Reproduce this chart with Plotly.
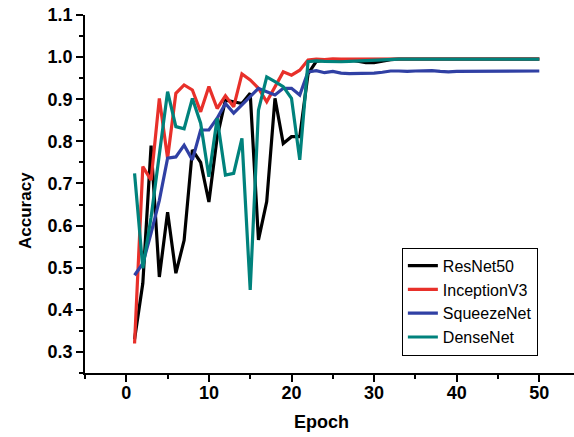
import plotly.graph_objects as go

epochs = list(range(1, 51))

resnet50 = [
    0.33, 0.463, 0.79, 0.478, 0.632, 0.487, 0.565, 0.78, 0.75, 0.656,
    0.81, 0.898, 0.894, 0.89, 0.914, 0.566, 0.657, 0.902, 0.795, 0.811,
    0.811, 0.96, 0.99, 0.993, 0.994, 0.993, 0.994, 0.99, 0.987, 0.987,
    0.99, 0.994, 0.995, 0.995, 0.995, 0.995, 0.995, 0.995, 0.995, 0.995,
    0.995, 0.995, 0.995, 0.995, 0.995, 0.995, 0.995, 0.995, 0.995, 0.995,
]
inception_v3 = [
    0.32, 0.74, 0.708, 0.902, 0.76, 0.914, 0.934, 0.922, 0.87, 0.93,
    0.878, 0.908, 0.882, 0.96, 0.946, 0.926, 0.894, 0.93, 0.965, 0.957,
    0.969, 0.993, 0.995, 0.994, 0.996, 0.995, 0.995, 0.996, 0.995, 0.995,
    0.996, 0.996, 0.996, 0.996, 0.996, 0.996, 0.996, 0.996, 0.996, 0.996,
    0.996, 0.996, 0.996, 0.996, 0.996, 0.996, 0.996, 0.996, 0.996, 0.996,
]
squeezenet = [
    0.482, 0.51, 0.582, 0.66, 0.76, 0.763, 0.791, 0.756, 0.827, 0.827,
    0.855, 0.89, 0.867, 0.886, 0.906, 0.926, 0.918, 0.91, 0.926, 0.926,
    0.91, 0.965, 0.968, 0.963, 0.966, 0.962, 0.961, 0.961, 0.961, 0.962,
    0.964, 0.967, 0.967, 0.966, 0.967, 0.968, 0.968, 0.966, 0.965, 0.966,
    0.966, 0.967, 0.967, 0.967, 0.967, 0.967, 0.967, 0.967, 0.967, 0.967,
]
densenet = [
    0.724, 0.499, 0.62, 0.77, 0.918, 0.835, 0.83, 0.902, 0.843, 0.716,
    0.855, 0.72, 0.724, 0.807, 0.447, 0.874, 0.953, 0.942, 0.93, 0.902,
    0.756, 0.989, 0.991, 0.99, 0.989, 0.989, 0.99, 0.991, 0.992, 0.993,
    0.994, 0.995, 0.995, 0.995, 0.995, 0.995, 0.995, 0.995, 0.995, 0.995,
    0.995, 0.995, 0.995, 0.995, 0.995, 0.995, 0.995, 0.995, 0.995, 0.995,
]

SERIES = [
    ("ResNet50", resnet50, "#000000"),
    ("InceptionV3", inception_v3, "#E8302A"),
    ("SqueezeNet", squeezenet, "#3040A4"),
    ("DenseNet", densenet, "#00827C"),
]

FONT = "Liberation Sans, Arial, sans-serif"

fig = go.Figure()
for name, values, color in SERIES:
    fig.add_trace(go.Scatter(
        x=epochs, y=values, name=name, mode="lines",
        line=dict(color=color, width=3.2),
    ))

axis_common = dict(
    showgrid=False, zeroline=False, showline=True, linecolor="black",
    linewidth=1.5, ticks="outside", ticklen=7, tickwidth=1.5, tickcolor="black",
    tickfont=dict(family=FONT, size=18, color="black", weight="bold"),
    automargin=False, ticklabeloverflow="allow",
)

fig.update_xaxes(
    range=[-5, 54.2], dtick=10, tick0=0, ticklabelstandoff=-4,
    minor=dict(ticks="outside", dtick=5, ticklen=4, tickwidth=1.5, tickcolor="black"),
    **axis_common,
)
fig.update_yaxes(
    range=[0.25, 1.1], dtick=0.1, tick0=0.3, tickformat=".1f", ticklabelstandoff=0,
    minor=dict(ticks="outside", dtick=0.05, ticklen=4, tickwidth=1.5, tickcolor="black"),
    **axis_common,
)

fig.add_annotation(
    text="Epoch", xref="paper", yref="paper", x=0.484, y=-0.136,
    showarrow=False, yanchor="middle",
    font=dict(family=FONT, size=18, color="black", weight="bold"),
)
fig.add_annotation(
    text="Accuracy", xref="paper", yref="paper", x=-0.123, y=0.455,
    showarrow=False, textangle=-90, xanchor="center", yanchor="middle",
    font=dict(family=FONT, size=17, color="black", weight="bold"),
)

fig.update_layout(
    width=574, height=437,
    margin=dict(l=85, r=0, t=15, b=64),
    plot_bgcolor="white", paper_bgcolor="white",
    showlegend=True,
    legend=dict(
        x=0.648, y=0.35, xanchor="left", yanchor="top",
        bordercolor="black", borderwidth=1, bgcolor="white",
        font=dict(family=FONT, size=16, color="black"),
        tracegroupgap=0,
    ),
)

# drop the default 8px body margin so the figure sits at the window's corner
fig.write_html(
    "out.html",
    config={"displayModeBar": False},
    post_script="document.body.style.margin = '0';",
)
